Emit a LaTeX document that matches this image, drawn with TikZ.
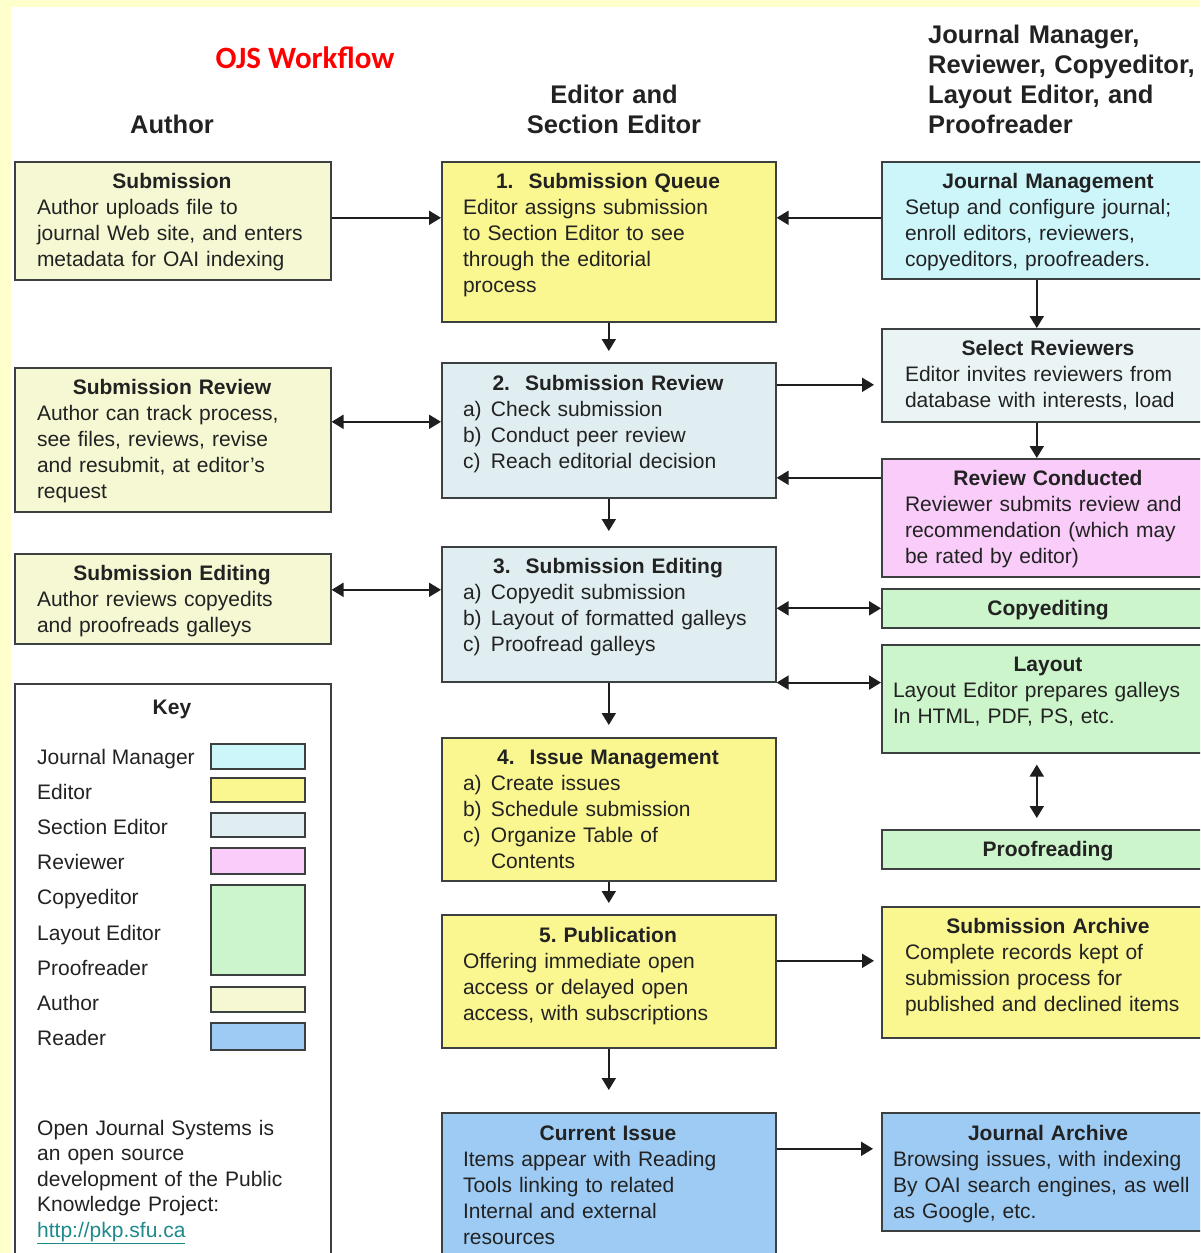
\documentclass[tikz,border=0pt]{standalone}
\usepackage{fontspec}
\setmainfont{Liberation Sans}
\newfontfamily\ojsfont{Carlito}
\usepackage{xcolor}
\usetikzlibrary{arrows.meta}
\frenchspacing

\definecolor{framey}{HTML}{FFFFCC}
\definecolor{linec}{HTML}{3C4040}
\definecolor{arrc}{HTML}{1E1E1E}
\definecolor{txtc}{HTML}{222222}
\definecolor{autc}{HTML}{F6F8D3}
\definecolor{edc}{HTML}{FAF690}
\definecolor{sec}{HTML}{E1EEF1}
\definecolor{jmc}{HTML}{CCF6FA}
\definecolor{selc}{HTML}{EBF4F5}
\definecolor{revc}{HTML}{F9CCF9}
\definecolor{grc}{HTML}{CDF5CB}
\definecolor{rdc}{HTML}{9DCBF4}
\definecolor{urlc}{HTML}{1F8A8C}

\newcommand{\bodysize}{\fontsize{21}{26}\selectfont}
\newcommand{\headsize}{\fontsize{25.5}{30}\selectfont\bfseries}
\newcommand{\boxtitle}[1]{{\centering\bfseries #1\par}}
\newcommand{\itm}[1]{\makebox[28pt][l]{#1}}

\tikzset{
  box/.style={draw=linec, line width=1.6pt, anchor=north west, inner sep=0pt},
  btext/.style={anchor=base, text width=#1, align=left, inner sep=0pt, font=\bodysize, text=txtc},
  ttext/.style={anchor=base, inner sep=0pt, font=\bodysize\bfseries, text=txtc},
  head/.style={anchor=base, inner sep=0pt, font=\headsize, text=txtc},
  swatch/.style={draw=linec, line width=1.6pt},
  arr/.style={line width=2pt, draw=arrc, -{Triangle[length=12pt,width=14pt]}},
  dbl/.style={line width=2pt, draw=arrc, {Triangle[length=12pt,width=14pt]}-{Triangle[length=12pt,width=14pt]}}
}

\begin{document}
\begin{tikzpicture}[x=1pt,y=-1pt]
\useasboundingbox (0,0) rectangle (1200,1253);
\clip (0,0) rectangle (1200,1253);
\fill[framey] (0,0) rectangle (1200,1253);
\fill[white] (11,7) rectangle (1210,1260);

\node[anchor=base, inner sep=0pt, font=\ojsfont\fontsize{31}{36}\selectfont\bfseries, text=red] (title) at (305,68) {OJS Workflow};
\node[head] (hauthor) at (172,133) {Author};
\node[head, text width=220pt, align=center] (heditor) at (614,103) {Editor and\\Section Editor};
\node[head, anchor=base west, text width=275pt, align=left] (hright) at (928,43) {Journal Manager,\\Reviewer, Copyeditor,\\Layout Editor, and\\Proofreader};

\node[box, fill=autc, minimum width=316pt, minimum height=118pt] (sub) at (14,161) {};
\node[box, fill=autc, minimum width=316pt, minimum height=144pt] (subrev) at (14,367) {};
\node[box, fill=autc, minimum width=316pt, minimum height=90pt] (subedit) at (14,553) {};
\node[box, fill=white, minimum width=316pt, minimum height=600pt] (key) at (14,683) {};

\node[box, fill=edc, minimum width=334pt, minimum height=160pt] (queue) at (441,161) {};
\node[box, fill=sec, minimum width=334pt, minimum height=135pt] (review) at (441,362) {};
\node[box, fill=sec, minimum width=334pt, minimum height=135pt] (editing) at (441,546) {};
\node[box, fill=edc, minimum width=334pt, minimum height=143pt] (issue) at (441,737) {};
\node[box, fill=edc, minimum width=334pt, minimum height=133pt] (pub) at (441,914) {};
\node[box, fill=rdc, minimum width=334pt, minimum height=200pt] (current) at (441,1112) {};

\node[box, fill=jmc, minimum width=334pt, minimum height=117pt] (jm) at (881,161) {};
\node[box, fill=selc, minimum width=334pt, minimum height=93pt] (selrev) at (881,328) {};
\node[box, fill=revc, minimum width=334pt, minimum height=118pt] (revcond) at (881,458) {};
\node[box, fill=grc, minimum width=334pt, minimum height=39pt] (copyed) at (881,588) {};
\node[box, fill=grc, minimum width=334pt, minimum height=108pt] (layout) at (881,644) {};
\node[box, fill=grc, minimum width=334pt, minimum height=39pt] (proof) at (881,829) {};
\node[box, fill=edc, minimum width=334pt, minimum height=131pt] (subarch) at (881,906) {};
\node[box, fill=rdc, minimum width=334pt, minimum height=118pt] (jarch) at (881,1112) {};

\node[btext=270pt] (subt) at (172,188) {\boxtitle{Submission}Author uploads file to\\journal Web site, and enters\\metadata for OAI indexing};
\node[btext=270pt] (subrevt) at (172,394) {\boxtitle{Submission Review}Author can track process,\\see files, reviews, revise\\and resubmit, at editor's\\request};
\node[btext=270pt] (subeditt) at (172,580) {\boxtitle{Submission Editing}Author reviews copyedits\\and proofreads galleys};
\node[ttext] (keyt) at (172,714) {Key};
\foreach \lab [count=\i from 0] in {Journal Manager,Editor,Section Editor,Reviewer,Copyeditor,Layout Editor,Proofreader,Author,Reader}
  \node[anchor=base west, inner sep=0pt, font=\bodysize, text=txtc] (klab\i) at (37,{764.5+35.1*\i}) {\lab};
\foreach \c/\ya/\yb in {jmc/744/769,edc/778/802,sec/813/837,revc/848/874,grc/885/975,autc/987/1012,rdc/1023/1050}
  \draw[swatch, fill=\c] (211,\ya) rectangle (305,\yb);
\node[anchor=base west, text width=280pt, align=left, inner sep=0pt, font=\fontsize{21}{25.5}\selectfont, text=txtc] (knote) at (37,1135) {Open Journal Systems is\\an open source\\development of the Public\\Knowledge Project:\\\textcolor{urlc}{\underline{http://pkp.sfu.ca}}};

\node[btext=290pt] (queuet) at (608,188) {\boxtitle{1.\hspace{15pt}Submission Queue}Editor assigns submission\\to Section Editor to see\\through the editorial\\process};
\node[btext=290pt] (reviewt) at (608,390) {\boxtitle{2.\hspace{15pt}Submission Review}\itm{a)}Check submission\\\itm{b)}Conduct peer review\\\itm{c)}Reach editorial decision};
\node[btext=290pt] (editingt) at (608,573) {\boxtitle{3.\hspace{15pt}Submission Editing}\itm{a)}Copyedit submission\\\itm{b)}Layout of formatted galleys\\\itm{c)}Proofread galleys};
\node[btext=290pt] (issuet) at (608,764) {\boxtitle{4.\hspace{15pt}Issue Management}\itm{a)}Create issues\\\itm{b)}Schedule submission\\\itm{c)}Organize Table of\\\hspace*{28pt}Contents};
\node[btext=290pt] (pubt) at (608,942) {\boxtitle{5. Publication}Offering immediate open\\access or delayed open\\access, with subscriptions};
\node[btext=290pt] (currentt) at (608,1140) {\boxtitle{Current Issue}Items appear with Reading\\Tools linking to related\\Internal and external\\resources};

\node[btext=286pt] (jmt) at (1048,188) {\boxtitle{Journal Management}Setup and configure journal;\\enroll editors, reviewers,\\copyeditors, proofreaders.};
\node[btext=286pt] (selrevt) at (1048,355) {\boxtitle{Select Reviewers}Editor invites reviewers from\\database with interests, load};
\node[btext=286pt] (revcondt) at (1048,485) {\boxtitle{Review Conducted}Reviewer submits review and\\recommendation (which may\\be rated by editor)};
\node[ttext] (copyedt) at (1048,615) {Copyediting};
\node[btext=310pt] (layoutt) at (1048,671) {\boxtitle{Layout}Layout Editor prepares galleys\\In HTML, PDF, PS, etc.};
\node[ttext] (prooft) at (1048,856) {Proofreading};
\node[btext=286pt] (subarcht) at (1048,933) {\boxtitle{Submission Archive}Complete records kept of\\submission process for\\published and declined items};
\node[btext=310pt] (jarcht) at (1048,1140) {\boxtitle{Journal Archive}Browsing issues, with indexing\\By OAI search engines, as well\\as Google, etc.};

\draw[arr] ([yshift=3pt]sub.east) -- ([yshift=3pt]sub.east -| queue.west);
\draw[arr] ([yshift=2.5pt]jm.west) -- ([yshift=2.5pt]jm.west -| queue.east);
\draw[arr, shorten >=11pt] (queue.south) -- (review.north);
\draw[arr, shorten >=15pt] (review.south) -- (editing.north);
\draw[arr, shorten >=12pt] (editing.south) -- (issue.north);
\draw[arr, shorten >=11pt] (issue.south) -- (pub.north);
\draw[arr, shorten >=22pt] (pub.south) -- (current.north);
\draw[dbl] ([yshift=8.5pt]review.west -| subrev.east) -- ([yshift=8.5pt]review.west);
\draw[dbl] ([yshift=9pt]subedit.east) -- ([yshift=9pt]subedit.east -| editing.west);
\draw[arr, shorten >=7pt] ([yshift=-9.5pt]selrev.west -| review.east) -- ([yshift=-9.5pt]selrev.west);
\draw[arr] ([yshift=40pt]revcond.west) -- ([yshift=40pt]revcond.west -| review.east);
\draw[arr] ([xshift=-12pt]jm.south) -- ([xshift=-12pt]jm.south |- selrev.north);
\draw[arr] ([xshift=-12pt]selrev.south) -- ([xshift=-12pt]selrev.south |- revcond.north);
\draw[dbl] (copyed.west -| editing.east) -- (copyed.west);
\draw[dbl] (editing.south east) -- (editing.south east -| layout.west);
\draw[dbl, shorten <=11pt, shorten >=11pt] ([xshift=-12pt]layout.south) -- ([xshift=-12pt]layout.south |- proof.north);
\draw[arr, shorten >=7pt] ([yshift=20.5pt]pub.east) -- ([yshift=20.5pt]pub.east -| subarch.west);
\draw[arr, shorten >=8pt] ([yshift=23pt]jarch.west -| current.east) -- ([yshift=23pt]jarch.west);
\end{tikzpicture}
\end{document}
